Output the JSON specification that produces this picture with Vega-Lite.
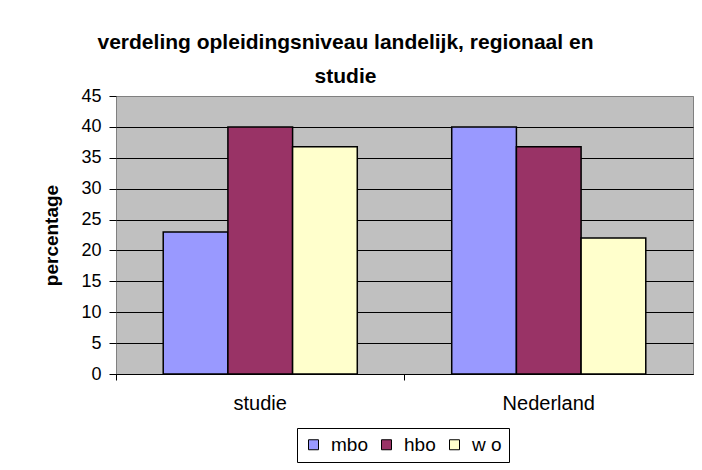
{
  "$schema": "https://vega.github.io/schema/vega-lite/v6.json",
  "width": 577,
  "height": 278,
  "autosize": {"type": "none"},
  "padding": {"left": 116, "top": 96, "right": 9, "bottom": 96},
  "background": "white",
  "title": {
    "text": ["verdeling opleidingsniveau landelijk, regionaal en", "studie"],
    "font": "Liberation Sans",
    "fontSize": 21,
    "fontWeight": "bold",
    "color": "black",
    "anchor": "middle",
    "baseline": "bottom",
    "dx": -59,
    "dy": 30,
    "lineHeight": 34,
    "offset": 9
  },
  "data": {
    "values": [
      {"regio": "studie", "niveau": "mbo", "percentage": 23},
      {"regio": "studie", "niveau": "hbo", "percentage": 40},
      {"regio": "studie", "niveau": "w o", "percentage": 36.8},
      {"regio": "Nederland", "niveau": "mbo", "percentage": 40},
      {"regio": "Nederland", "niveau": "hbo", "percentage": 36.8},
      {"regio": "Nederland", "niveau": "w o", "percentage": 22}
    ]
  },
  "mark": {"type": "bar", "stroke": "black", "strokeWidth": 1.5},
  "encoding": {
    "x": {
      "field": "regio",
      "type": "nominal",
      "sort": ["studie", "Nederland"],
      "scale": {"paddingInner": 0, "paddingOuter": 0},
      "axis": {
        "title": null,
        "labelAngle": 0,
        "bandPosition": 0,
        "labelFont": "Liberation Sans",
        "labelFontSize": 20,
        "labelColor": "black",
        "labelPadding": 13,
        "tickColor": "black",
        "tickSize": 6,
        "domainColor": "black",
        "domainWidth": 1,
        "grid": false
      }
    },
    "xOffset": {
      "field": "niveau",
      "type": "nominal",
      "sort": ["mbo", "hbo", "w o"],
      "scale": {"paddingInner": 0, "paddingOuter": 0.73}
    },
    "y": {
      "field": "percentage",
      "type": "quantitative",
      "scale": {"domain": [0, 45], "nice": false},
      "axis": {
        "title": "percentage",
        "titleFont": "Liberation Sans",
        "titleFontSize": 19,
        "titleFontWeight": "bold",
        "titleColor": "black",
        "titlePadding": 19,
        "values": [0, 5, 10, 15, 20, 25, 30, 35, 40, 45],
        "labelFont": "Liberation Sans",
        "labelFontSize": 18,
        "labelColor": "black",
        "labelPadding": 8,
        "tickColor": "black",
        "tickSize": 7,
        "domain": false,
        "grid": true,
        "gridColor": {"condition": {"test": "datum.value == 45", "value": "#808080"}, "value": "black"},
        "gridWidth": 1,
        "gridOpacity": 1
      }
    },
    "color": {
      "field": "niveau",
      "type": "nominal",
      "sort": ["mbo", "hbo", "w o"],
      "scale": {"domain": ["mbo", "hbo", "w o"], "range": ["#9999FF", "#993366", "#FFFFCC"]},
      "legend": {
        "title": null,
        "orient": "none",
        "legendX": 181,
        "legendY": 332,
        "direction": "horizontal",
        "strokeColor": "black",
        "fillColor": "white",
        "padding": 7,
        "symbolType": "square",
        "symbolSize": 100,
        "symbolStrokeColor": "black",
        "symbolStrokeWidth": 1,
        "symbolOpacity": 1,
        "labelFont": "Liberation Sans",
        "labelFontSize": 19,
        "labelColor": "black",
        "labelOffset": 8,
        "columnPadding": 9
      }
    }
  },
  "config": {
    "view": {"fill": "#C0C0C0", "stroke": "#808080", "strokeWidth": 1}
  }
}
